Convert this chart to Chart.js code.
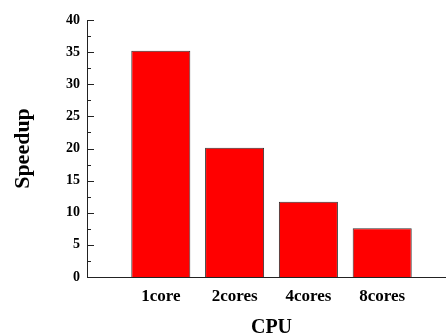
<!DOCTYPE html>
<html>
<head>
<meta charset="utf-8">
<script src="https://cdn.jsdelivr.net/npm/chart.js@4.4.1/dist/chart.umd.min.js"></script>
<style>
  html, body { margin: 0; padding: 0; background: #fff; overflow: hidden; }
  #wrap { width: 465px; height: 333px; }
</style>
</head>
<body>
<div id="wrap"><canvas id="myChart" width="465" height="333"></canvas></div>
<script>
const cpus = ['1core', '2cores', '4cores', '8cores'];
const speedup = [35.2, 20.1, 11.7, 7.6];
const yTicks = [0, 5, 10, 15, 20, 25, 30, 35, 40];

// blank slot on each side so the bars sit away from the axes
const labels = ['', ...cpus, ''];
const values = [null, ...speedup, null];

const serif = "'Liberation Serif', 'Times New Roman', serif";

// inward tick marks on the y axis (major every 5, minor halfway)
const inwardTicks = {
    id: 'inwardTicks',
    afterDatasetsDraw(chart) {
        const y = chart.scales.y;
        const c = chart.ctx;
        const x0 = chart.chartArea.left;
        c.save();
        c.strokeStyle = '#222';
        c.lineWidth = 1;
        c.beginPath();
        yTicks.forEach((v, i) => {
            const py = Math.round(y.getPixelForValue(v)) + 0.5;
            if (i > 0) {
                c.moveTo(x0, py);
                c.lineTo(x0 + 7, py);
            }
            if (i < yTicks.length - 1) {
                const pm = Math.round(y.getPixelForValue(v + 2.5)) + 0.5;
                c.moveTo(x0, pm);
                c.lineTo(x0 + 4, pm);
            }
        });
        c.stroke();
        c.restore();
    }
};

const ctx = document.getElementById('myChart').getContext('2d');

const myChart = new Chart(ctx, {
    type: 'bar',
    data: {
        labels: labels,
        datasets: [{
            label: 'Speedup',
            data: values,
            backgroundColor: '#ff0000',
            borderColor: '#333333',
            borderWidth: 1,
            barPercentage: 0.8,
            categoryPercentage: 1.0
        }]
    },
    options: {
        responsive: false,
        animation: false,
        layout: { padding: { top: 20, right: 3, left: 0, bottom: 0 } },
        plugins: {
            legend: { display: false },
            tooltip: { enabled: false }
        },
        scales: {
            x: {
                offset: false,
                grid: { display: false, drawTicks: false },
                border: { display: true, color: '#222', width: 1 },
                ticks: {
                    color: '#000',
                    padding: 9,
                    maxRotation: 0,
                    autoSkip: false,
                    font: { family: serif, size: 17, weight: 'bold' }
                },
                title: {
                    display: true,
                    text: 'CPU',
                    color: '#000',
                    padding: { top: 0, bottom: 0 },
                    font: { family: serif, size: 20, weight: 'bold', lineHeight: 0.5 }
                },
                afterFit(scale) { scale.height = 56; }
            },
            y: {
                min: 0,
                max: 40,
                grid: { display: false, drawTicks: false },
                border: { display: true, color: '#222', width: 1 },
                ticks: {
                    stepSize: 5,
                    color: '#000',
                    padding: 7,
                    font: { family: serif, size: 14, weight: 'bold' }
                },
                title: {
                    display: true,
                    text: 'Speedup',
                    color: '#000',
                    padding: { top: 10, bottom: 0 },
                    font: { family: serif, size: 22, weight: 'bold' }
                },
                afterFit(scale) { scale.width = 87; }
            }
        }
    },
    plugins: [inwardTicks]
});
</script>
</body>
</html>
